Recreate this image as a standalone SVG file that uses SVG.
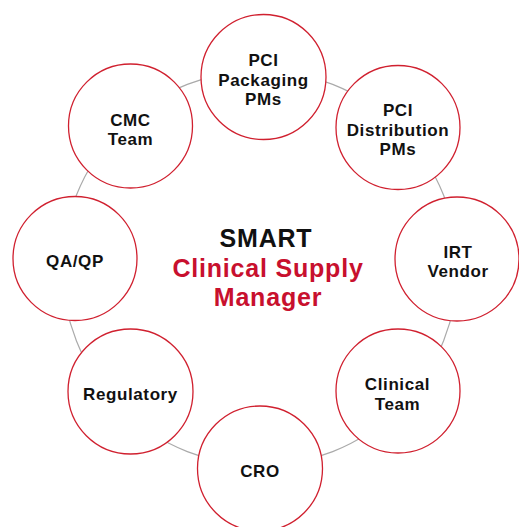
<svg xmlns="http://www.w3.org/2000/svg" width="519" height="527" viewBox="0 0 519 527">
<style>
.node{fill:#fff;stroke:#d0202f;stroke-width:1.3}
.lbl{font-family:"Liberation Sans",Arial,sans-serif;font-weight:700;font-size:17px;letter-spacing:0.6px;fill:#111;text-anchor:middle}
.ring{fill:none;stroke:#aaaaaa;stroke-width:1.2}
.title{font-family:"Liberation Sans",Arial,sans-serif;font-weight:700;font-size:25px;letter-spacing:0.8px;text-anchor:middle}
</style>
<rect width="519" height="527" fill="#fff"/>
<g id="connectors">
<circle class="ring" cx="260" cy="268" r="197.5"/>
</g>
<g id="pci-packaging"><circle class="node" cx="263.5" cy="77" r="62.5"/><text class="lbl"><tspan x="263.5" y="66">PCI</tspan><tspan x="263.5" y="86">Packaging</tspan><tspan x="263.5" y="105">PMs</tspan></text></g>
<g id="pci-distribution"><circle class="node" cx="398" cy="127.5" r="62"/><text class="lbl"><tspan x="398" y="116">PCI</tspan><tspan x="398" y="136">Distribution</tspan><tspan x="398" y="155">PMs</tspan></text></g>
<g id="irt-vendor"><circle class="node" cx="457" cy="259" r="62"/><text class="lbl"><tspan x="458" y="258">IRT</tspan><tspan x="458" y="277">Vendor</tspan></text></g>
<g id="clinical-team"><circle class="node" cx="398" cy="391" r="62"/><text class="lbl"><tspan x="397.5" y="390">Clinical</tspan><tspan x="397.5" y="410">Team</tspan></text></g>
<g id="cro"><circle class="node" cx="260" cy="468.5" r="62.5"/><text class="lbl" x="260" y="477">CRO</text></g>
<g id="regulatory"><circle class="node" cx="130.5" cy="391.5" r="62.5"/><text class="lbl" x="130.5" y="400">Regulatory</text></g>
<g id="qa-qp"><circle class="node" cx="75" cy="258.5" r="62"/><text class="lbl" x="75" y="267">QA/QP</text></g>
<g id="cmc-team"><circle class="node" cx="130.5" cy="126" r="62"/><text class="lbl"><tspan x="130.5" y="126">CMC</tspan><tspan x="130.5" y="145">Team</tspan></text></g>
<g id="center-title">
<text class="title" x="266" y="247" fill="#111">SMART</text>
<text class="title" x="268" y="277" fill="#c8102e">Clinical Supply</text>
<text class="title" x="268" y="306" fill="#c8102e">Manager</text>
</g>
</svg>
